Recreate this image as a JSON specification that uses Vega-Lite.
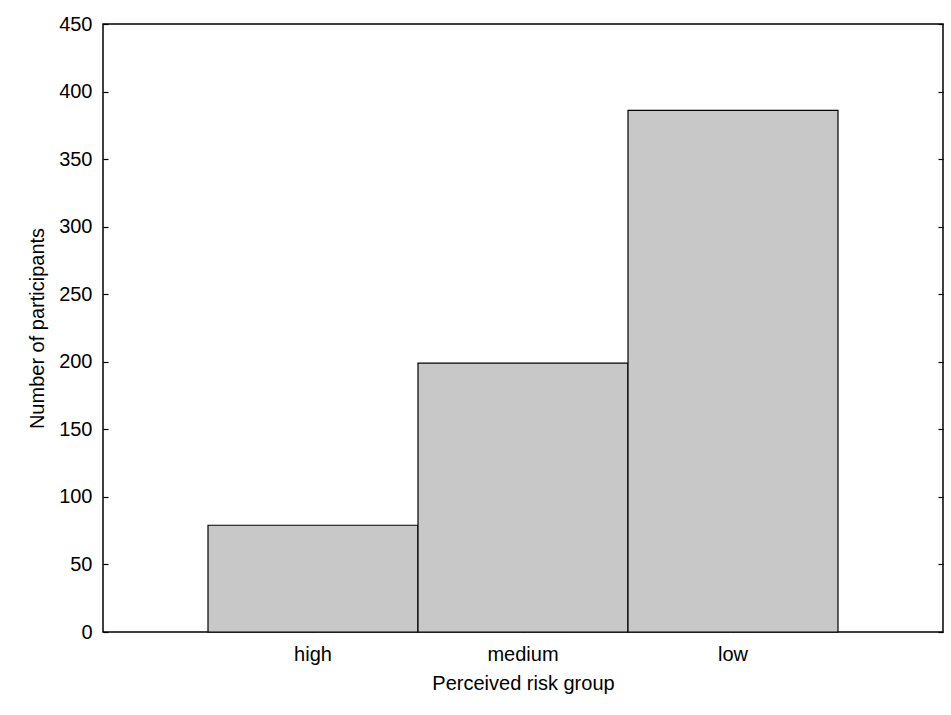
{
  "$schema": "https://vega.github.io/schema/vega-lite/v6.json",
  "width": 840,
  "height": 608,
  "autosize": {"type": "none"},
  "padding": {"left": 103, "top": 24, "right": 8, "bottom": 83},
  "background": "white",
  "config": {
    "view": {"stroke": "black", "strokeWidth": 1.5},
    "font": "Liberation Sans",
    "axis": {
      "domain": false,
      "grid": false,
      "tickColor": "black",
      "tickWidth": 1.2,
      "labelColor": "black",
      "labelFont": "Liberation Sans",
      "labelFontSize": 20,
      "titleColor": "black",
      "titleFont": "Liberation Sans",
      "titleFontSize": 20,
      "titleFontWeight": "normal"
    }
  },
  "data": {
    "values": [
      {"group": "high", "n": 79},
      {"group": "medium", "n": 199},
      {"group": "low", "n": 386}
    ]
  },
  "layer": [
    {
      "mark": {"type": "bar", "fill": "#c8c8c8", "stroke": "black", "strokeWidth": 1.2},
      "encoding": {
        "x": {
          "field": "group",
          "type": "nominal",
          "sort": ["high", "medium", "low"],
          "scale": {"paddingInner": 0, "paddingOuter": 0.5},
          "axis": {
            "title": "Perceived risk group",
            "labelAngle": 0,
            "tickSize": -5,
            "labelPadding": 17,
            "titlePadding": 9
          }
        },
        "y": {
          "field": "n",
          "type": "quantitative",
          "scale": {"domain": [0, 450], "nice": false},
          "axis": {
            "orient": "left",
            "title": "Number of participants",
            "values": [0, 50, 100, 150, 200, 250, 300, 350, 400, 450],
            "tickSize": -5,
            "labelPadding": 16,
            "titlePadding": 11
          }
        }
      }
    },
    {
      "mark": {"type": "bar", "opacity": 0},
      "encoding": {
        "x": {"field": "group", "type": "nominal", "sort": ["high", "medium", "low"]},
        "y": {
          "field": "n",
          "type": "quantitative",
          "axis": {
            "orient": "right",
            "title": null,
            "labels": false,
            "values": [0, 50, 100, 150, 200, 250, 300, 350, 400, 450],
            "tickSize": -5
          }
        }
      }
    }
  ],
  "resolve": {"axis": {"y": "independent"}}
}
